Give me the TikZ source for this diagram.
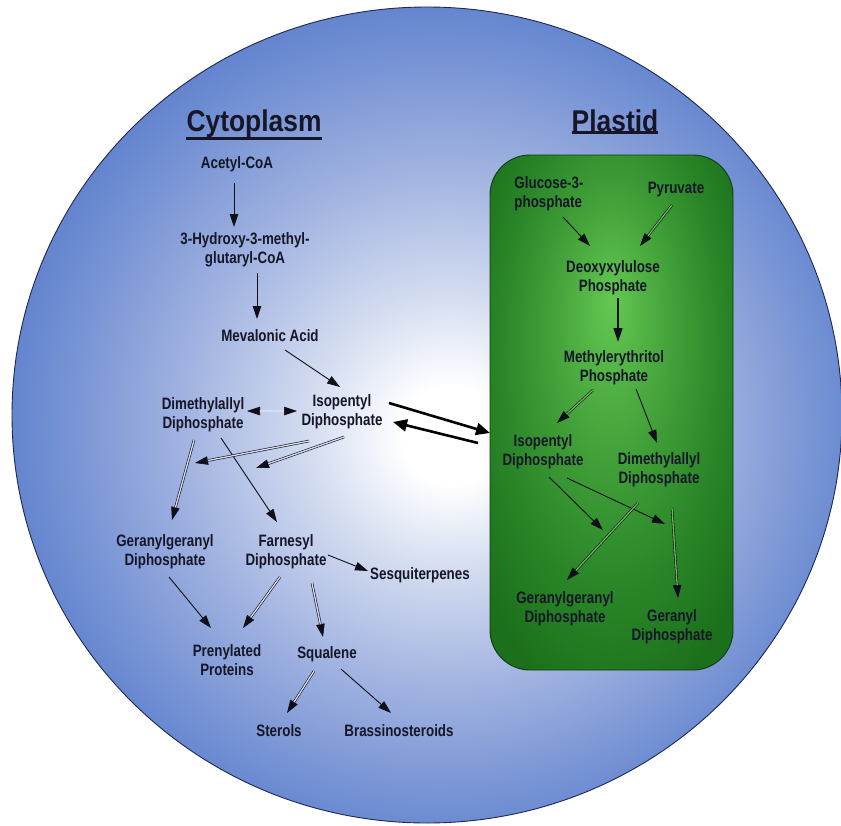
\documentclass[tikz,border=0pt]{standalone}
\usepackage{fontspec}
\usetikzlibrary{arrows.meta}
\newfontfamily\lblfont{Liberation Sans}[FakeStretch=0.81]
\newfontfamily\ttlfont{Liberation Sans}[FakeStretch=0.88]
\definecolor{txt}{RGB}{22,22,40}
\definecolor{arrc}{RGB}{15,15,25}
\definecolor{cA}{RGB}{211,220,240}
\definecolor{cB}{RGB}{160,178,224}
\definecolor{cC}{RGB}{104,136,208}
\definecolor{cD}{RGB}{72,105,196}
\definecolor{edgec}{RGB}{30,40,80}
\definecolor{gA}{RGB}{100,200,82}
\definecolor{gB}{RGB}{70,165,60}
\definecolor{gC}{RGB}{42,134,40}
\definecolor{gD}{RGB}{28,112,27}
\definecolor{gedge}{RGB}{15,60,15}
\definecolor{dblcyto}{RGB}{215,222,242}
\definecolor{dblplas}{RGB}{110,185,95}
\pgfdeclareradialshading{cellshade}{\pgfpoint{1.6bp}{-1.3bp}}{color(0bp)=(white); color(3bp)=(white); color(8.5bp)=(cA); color(16bp)=(cB); color(25bp)=(cC); color(32.5bp)=(cD); color(50bp)=(cD)}
\pgfdeclareradialshading{plastshade}{\pgfpoint{0bp}{11bp}}{color(0bp)=(gA); color(11bp)=(gB); color(23bp)=(gC); color(33bp)=(gD); color(50bp)=(gD)}
\begin{document}
\begin{tikzpicture}[x=1pt,y=-1pt,
  lbl/.style={font=\lblfont\bfseries\fontsize{16.5}{19}\selectfont, text=txt, inner sep=0pt, align=center},
  ttl/.style={font=\ttlfont\bfseries\fontsize{30}{34}\selectfont, text=txt, inner sep=0pt, anchor=base},
  tip/.style={-{Triangle[length=13pt,width=8.5pt]}},
  arr/.style={draw=arrc, line width=0.9pt, tip},
  dbl/.style={postaction={draw=arrc, line width=0.6pt, tip},
              postaction={draw=arrc, line width=0.6pt, double=#1, double distance=1.3pt, shorten >=13pt}},
  dbl/.default=dblcyto,
  dblboth/.style={postaction={draw=arrc, line width=0.6pt, {Triangle[length=13pt,width=8.5pt]}-{Triangle[length=13pt,width=8.5pt]}},
              postaction={draw=arrc, line width=0.6pt, double=#1, double distance=1.3pt, shorten >=13pt, shorten <=13pt}},
  dblboth/.default=dblcyto,
  big/.style={draw=black, line width=2.6pt, -{Triangle[length=14pt,width=12pt]}}]
\useasboundingbox[fill=white] (0,0) rectangle (841,825);
% cell
\shade[shading=cellshade] (427,415) ellipse [x radius=415pt, y radius=408pt];
\draw[edgec, line width=0.9pt] (427,415) ellipse [x radius=415pt, y radius=408pt];
% plastid
\shade[shading=plastshade, rounded corners=40pt] (490,155) rectangle (733,670);
\draw[gedge, line width=0.9pt, rounded corners=40pt] (490,155) rectangle (733,670);
% titles
\node[ttl] (ct) at (254,131) {Cytoplasm};
\node[ttl] (pt) at (615,131) {Plastid};
\draw[txt, line width=2.4pt] ([shift={(0,1)}]ct.south west) -- ([shift={(0,1)}]ct.south east);
\draw[txt, line width=2.4pt] ([shift={(0,1)}]pt.south west) -- ([shift={(0,1)}]pt.south east);
% cytoplasm nodes
\node[lbl] (acetyl) at (237,164) {Acetyl-CoA};
\node[lbl] (hmg) at (245,250) {3-Hydroxy-3-methyl-\\glutaryl-CoA};
\node[lbl] (meva) at (270,336) {Mevalonic Acid};
\node[lbl] (ippc) at (342,412) {Isopentyl\\Diphosphate};
\node[lbl] (dmappc) at (203,415) {Dimethylallyl\\Diphosphate};
\node[lbl] (ggppc) at (165,552) {Geranylgeranyl\\Diphosphate};
\node[lbl] (fppc) at (286,552) {Farnesyl\\Diphosphate};
\node[lbl] (sesq) at (420,575) {Sesquiterpenes};
\node[lbl] (prenyl) at (227,660) {Prenylated\\Proteins};
\node[lbl] (squal) at (327,654) {Squalene};
\node[lbl] (sterols) at (279,731) {Sterols};
\node[lbl] (brass) at (399,731) {Brassinosteroids};
% plastid nodes
\node[lbl, align=left] (gluc) at (549,194) {Glucose-3-\\phosphate};
\node[lbl] (pyr) at (676,190) {Pyruvate};
\node[lbl] (dxp) at (613,278) {Deoxyxylulose\\Phosphate};
\node[lbl] (mep) at (614,368) {Methylerythritol\\Phosphate};
\node[lbl] (ippp) at (543,452) {Isopentyl\\Diphosphate};
\node[lbl] (dmappp) at (659,470) {Dimethylallyl\\Diphosphate};
\node[lbl] (ggppp) at (565,609) {Geranylgeranyl\\Diphosphate};
\node[lbl] (gppp) at (672,627) {Geranyl\\Diphosphate};
% free ends
\coordinate (j1) at (195,463);
\coordinate (j2) at (256,468);
% cytoplasm arrows
\draw[arr] ([shift={(-3,19)}]acetyl.center) -- ([shift={(-11,-23)}]hmg.center);
\draw[arr] ([shift={(12,23)}]hmg.center) -- ([shift={(-13,-17)}]meva.center);
\draw[arr] ([shift={(15,14)}]meva.center) -- ([shift={(-2,-25)}]ippc.center);
\path[dblboth] ([shift={(44,-4)}]dmappc.center) -- ([shift={(-45,-1)}]ippc.center);
\draw[big] ([shift={(47,-9)}]ippc.center) -- ([shift={(-53,-19)}]ippp.center);
\draw[big] ([shift={(-65,-9)}]ippp.center) -- ([shift={(51,10)}]ippc.center);
\path[dbl] ([shift={(-9,25)}]dmappc.center) -- ([shift={(7,-32)}]ggppc.center);
\draw[arr] ([shift={(18,23)}]dmappc.center) -- ([shift={(-9,-30)}]fppc.center);
\path[dbl] ([shift={(-33,29)}]ippc.center) -- (j1);
\path[dbl] ([shift={(2,25)}]ippc.center) -- (j2);
\draw[arr] ([shift={(42,3)}]fppc.center) -- ([shift={(-52,-4)}]sesq.center);
\draw[arr] ([shift={(4,25)}]ggppc.center) -- ([shift={(-16,-32)}]prenyl.center);
\path[dbl] ([shift={(-6,25)}]fppc.center) -- ([shift={(16,-32)}]prenyl.center);
\path[dbl] ([shift={(26,31)}]fppc.center) -- ([shift={(-4,-17)}]squal.center);
\path[dbl] ([shift={(-13,17)}]squal.center) -- ([shift={(8,-18)}]sterols.center);
\draw[arr] ([shift={(14,15)}]squal.center) -- ([shift={(-8,-18)}]brass.center);
% plastid arrows
\draw[arr] ([shift={(14,23)}]gluc.center) -- ([shift={(-23,-32)}]dxp.center);
\path[dbl=dblplas] ([shift={(-4,15)}]pyr.center) -- ([shift={(27,-32)}]dxp.center);
\draw[arr, line width=1.4pt, -{Triangle[length=14pt,width=9pt]}] ([shift={(5,20)}]dxp.center) -- ([shift={(4,-26)}]mep.center);
\path[dbl=dblplas] ([shift={(-21,22)}]mep.center) -- ([shift={(14,-29)}]ippp.center);
\draw[arr] ([shift={(22,21)}]mep.center) -- ([shift={(-2,-27)}]dmappp.center);
\draw[arr] ([shift={(6,25)}]ippp.center) -- ([shift={(38,-79)}]ggppp.center);
\draw[arr] ([shift={(24,26)}]ippp.center) -- ([shift={(-7,-103)}]gppp.center);
\path[dbl=dblplas] ([shift={(-21,33)}]dmappp.center) -- ([shift={(2,-29)}]ggppp.center);
\path[dbl=dblplas] ([shift={(13,38)}]dmappp.center) -- ([shift={(6,-29)}]gppp.center);
\end{tikzpicture}
\end{document}
